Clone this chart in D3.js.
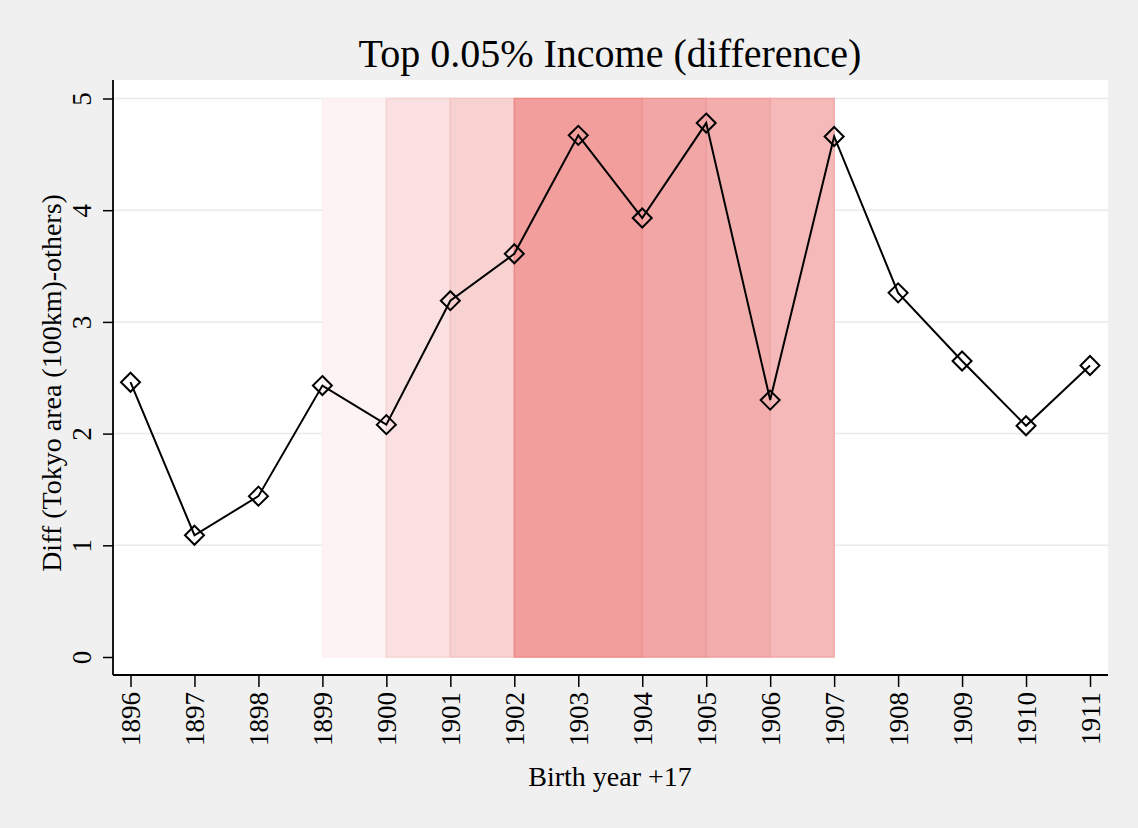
<!DOCTYPE html>
<html><head><meta charset="utf-8">
<script src="https://cdn.jsdelivr.net/npm/d3@7"></script>
<style>body{margin:0;background:#f0f0f0;}svg{display:block;}</style>
</head><body><svg id="c" width="1138" height="828"></svg>
<script>
const years = [1896,1897,1898,1899,1900,1901,1902,1903,1904,1905,1906,1907,1908,1909,1910,1911];
const values = [2.46,1.09,1.44,2.43,2.08,3.19,3.61,4.67,3.93,4.78,2.30,4.66,3.26,2.65,2.07,2.61];
const yTicks = [0,1,2,3,4,5];
const bandStart = [1899,1900,1901,1902,1904,1905,1906];
const bandEnd   = [1900,1901,1902,1904,1905,1906,1907];
const bandFill  = ["#fdf3f3","#fae0e0","#f8d1d1","#f19e9d","#f2a7a6","#f2aead","#f4b9b8"];
const bandStroke= ["#fdf0f0","#f6d3d3","#f4c5c5","#ee8987","#ee9694","#f09e9d","#f2a9a8"];

const svg = d3.select("#c");
const L=113, R=1108, T=80, B=675;
const x = d3.scaleLinear().domain([1896,1911]).range([130.5,1090]);
const y = d3.scaleLinear().domain([0,5]).range([657,98.5]);

svg.append("rect").attr("x",L).attr("y",T).attr("width",R-L).attr("height",B-T).attr("fill","#fff");

svg.append("g").selectAll("line").data(yTicks.filter(d=>d>0)).join("line")
  .attr("x1",L).attr("x2",R).attr("y1",d=>y(d)).attr("y2",d=>y(d))
  .attr("stroke","#eaeaea").attr("stroke-width",1.5);

svg.append("g").selectAll("rect").data(bandStart).join("rect")
  .attr("x",(d,i)=>x(d)).attr("width",(d,i)=>x(bandEnd[i])-x(d))
  .attr("y",y(5)).attr("height",y(0)-y(5))
  .attr("fill",(d,i)=>bandFill[i]).attr("stroke",(d,i)=>bandStroke[i]).attr("stroke-width",1.5);

svg.append("path").datum(years.map((d,i)=>[d,values[i]]))
  .attr("d",d3.line().x(d=>x(d[0])).y(d=>y(d[1])))
  .attr("fill","none").attr("stroke","#000").attr("stroke-width",2);

svg.append("g").selectAll("path").data(years).join("path")
  .attr("transform",(d,i)=>`translate(${x(d)},${y(values[i])})`)
  .attr("d","M0,-9.5L9.5,0L0,9.5L-9.5,0Z")
  .attr("fill","none").attr("stroke","#000").attr("stroke-width",2);

const ya = svg.append("g").attr("transform",`translate(${L},0)`)
  .call(d3.axisLeft(y).tickValues(yTicks).tickSize(10).tickFormat(d3.format("d")));
ya.select(".domain").attr("d",`M0,${T}V${B}`).attr("stroke","#000").attr("stroke-width",1.8);
ya.selectAll(".tick line").attr("stroke","#000").attr("stroke-width",1.5);
ya.selectAll(".tick text").attr("font-family","Liberation Serif").attr("font-size",27).attr("fill","#000")
  .attr("x",null).attr("dy",null).attr("text-anchor","middle")
  .attr("transform","translate(-31,0) rotate(-90)").attr("dy","0.35em");

const xa = svg.append("g").attr("transform",`translate(0,${B})`)
  .call(d3.axisBottom(x).tickValues(years).tickSize(12).tickFormat(d3.format("d")));
xa.select(".domain").attr("d",`M${L},0H${R}`).attr("stroke","#000").attr("stroke-width",1.8);
xa.selectAll(".tick line").attr("stroke","#000").attr("stroke-width",1.5);
xa.selectAll(".tick text").attr("font-family","Liberation Serif").attr("font-size",27).attr("fill","#000")
  .attr("y",null).attr("dy",null).attr("text-anchor","end")
  .attr("transform","translate(0,17) rotate(-90)").attr("dy","0.35em");

svg.append("text").attr("x",610).attr("y",67).attr("text-anchor","middle")
  .attr("font-family","Liberation Serif").attr("font-size",40).text("Top 0.05% Income (difference)");
svg.append("text").attr("x",610).attr("y",786).attr("text-anchor","middle")
  .attr("font-family","Liberation Serif").attr("font-size",28).text("Birth year +17");
svg.append("text").attr("transform","translate(61,383) rotate(-90)").attr("text-anchor","middle")
  .attr("font-family","Liberation Serif").attr("font-size",28).text("Diff (Tokyo area (100km)-others)");
</script></body></html>
